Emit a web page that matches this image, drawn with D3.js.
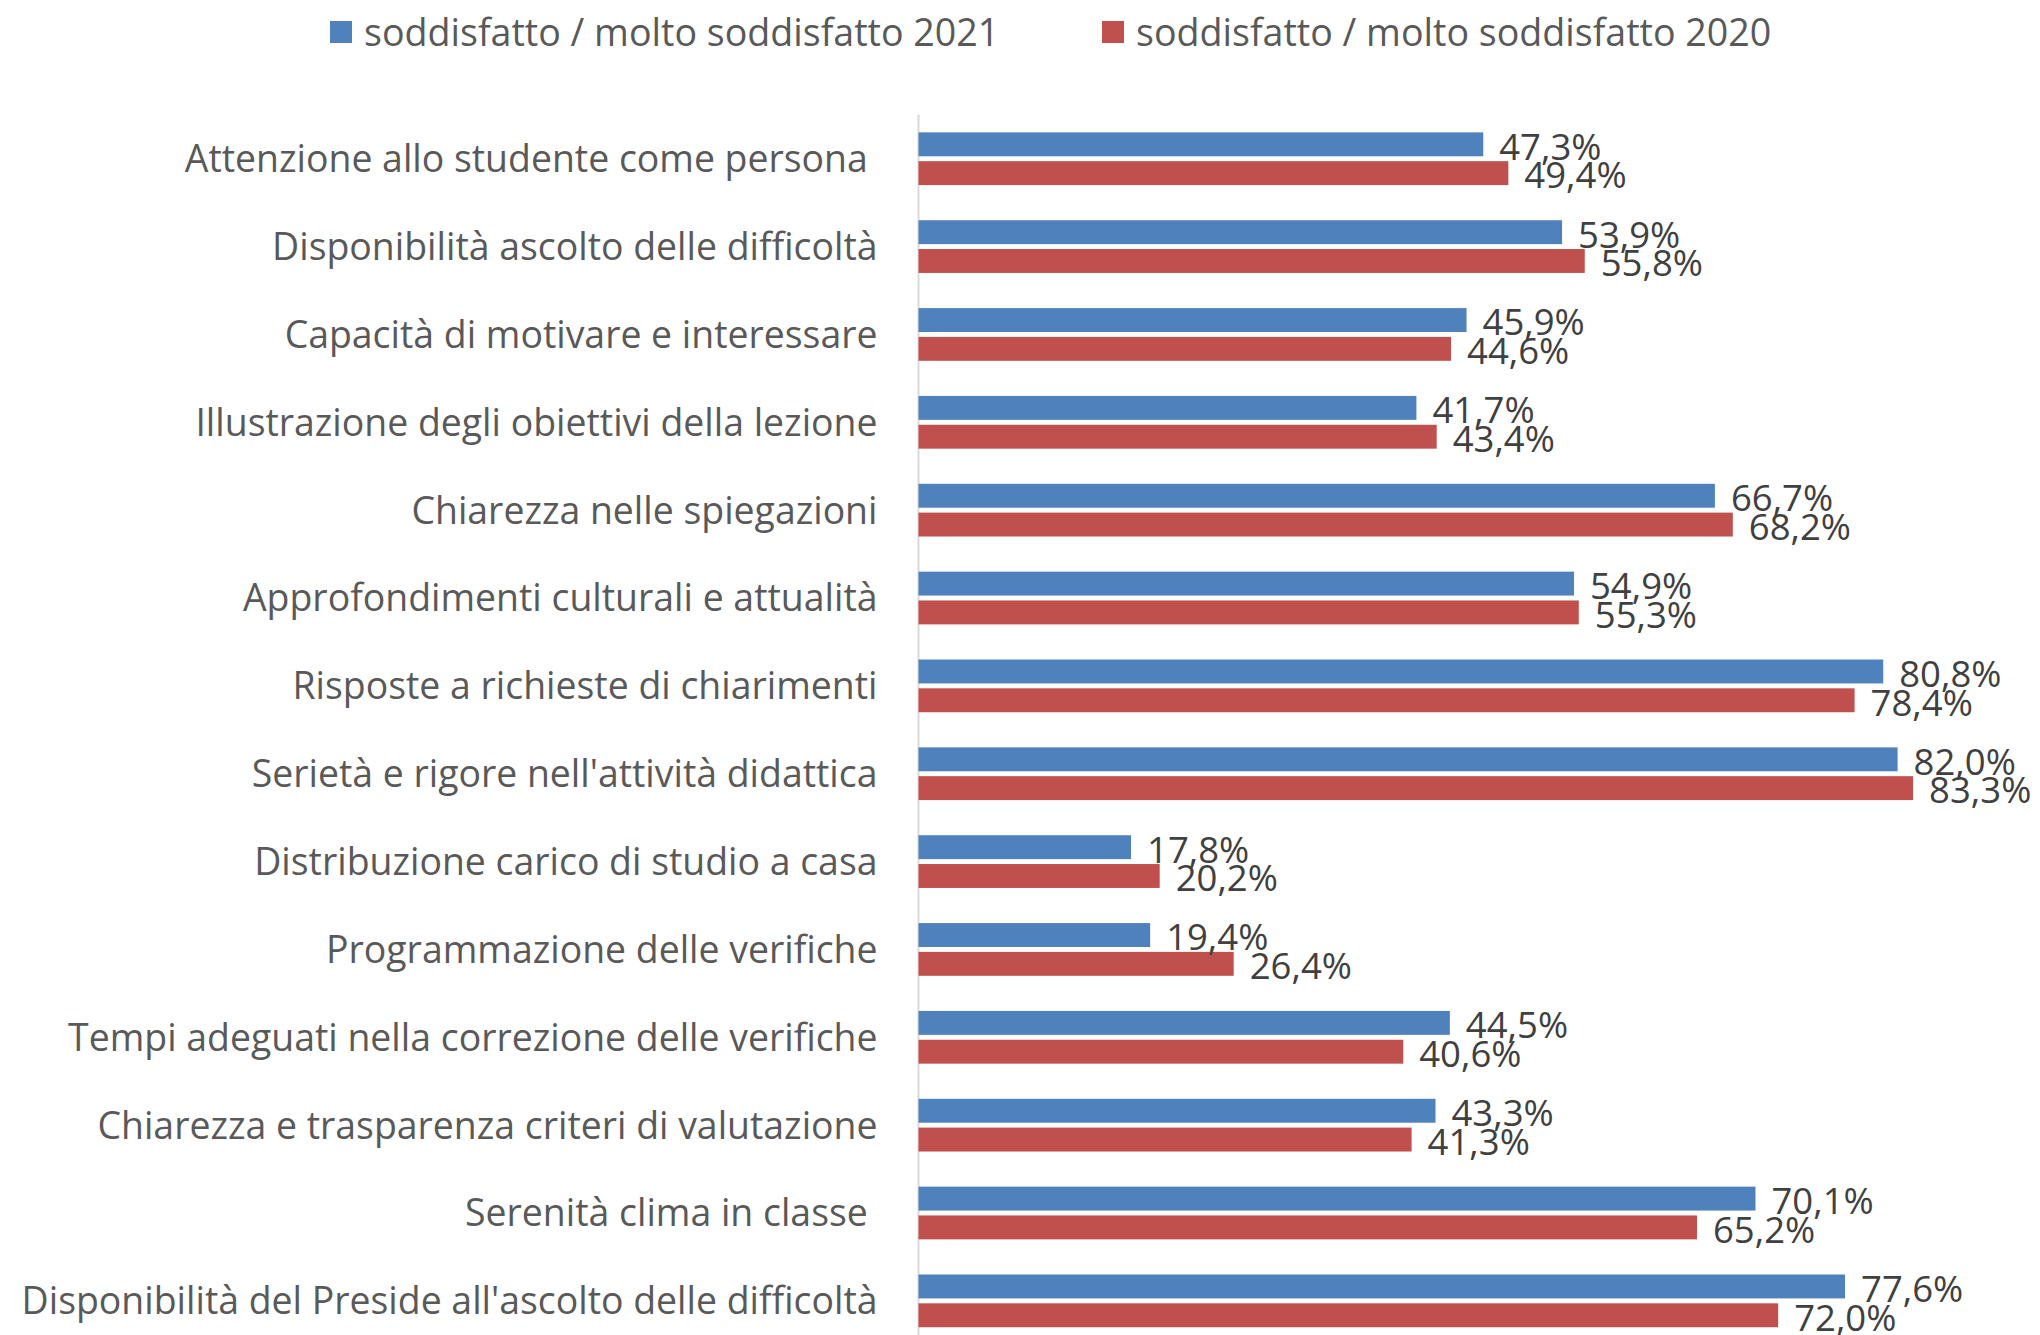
<!DOCTYPE html>
<html>
<head>
<meta charset="utf-8">
<script src="https://cdn.jsdelivr.net/npm/d3@7"></script>
<style>
  body { margin: 0; background: #fff; }
  text { font-family: "Open Sans", sans-serif; white-space: pre; }
</style>
</head>
<body>
<svg id="chart"></svg>
<script>
// categories (top to bottom), trailing spaces kept as in the original
const categories = [
  "Attenzione allo studente come persona ",
  "Disponibilità ascolto delle difficoltà",
  "Capacità di motivare e interessare",
  "Illustrazione degli obiettivi della lezione",
  "Chiarezza nelle spiegazioni",
  "Approfondimenti culturali e attualità",
  "Risposte a richieste di chiarimenti",
  "Serietà e rigore nell'attività didattica",
  "Distribuzione carico di studio a casa",
  "Programmazione delle verifiche",
  "Tempi adeguati nella correzione delle verifiche",
  "Chiarezza e trasparenza criteri di valutazione",
  "Serenità clima in classe ",
  "Disponibilità del Preside all'ascolto delle difficoltà"
]

const values2021 = [47.3, 53.9, 45.9, 41.7, 66.7, 54.9, 80.8, 82.0, 17.8, 19.4, 44.5, 43.3, 70.1, 77.6]
const values2020 = [49.4, 55.8, 44.6, 43.4, 68.2, 55.3, 78.4, 83.3, 20.2, 26.4, 40.6, 41.3, 65.2, 72.0]

const seriesNames = ["soddisfatto / molto soddisfatto 2021", "soddisfatto / molto soddisfatto 2020"]
const seriesKeys = ["y2021", "y2020"]
const seriesColors = ["#4F81BD", "#C0504D"]

const width = 2040
const height = 1335

const svg = d3.select("#chart")
  .attr("width", width)
  .attr("height", height)

const rows = categories.map((c, i) => ({
  name: c,
  y2021: values2021[i],
  y2020: values2020[i]
}))

// scales
const x = d3.scaleLinear()
  .domain([0, 100])
  .range([918.5, 918.5 + 1194])

const y = d3.scaleBand()
  .domain(categories)
  .range([114.8, 1344.8])
  .paddingInner(0.4)
  .paddingOuter(0.2)

const ySub = d3.scaleBand()
  .domain(seriesKeys)
  .range([0, y.bandwidth()])
  .paddingInner(0.17)

const color = d3.scaleOrdinal().domain(seriesKeys).range(seriesColors)
const fmt = v => d3.format(".1f")(v).replace(".", ",") + "%"

// vertical axis line
svg.append("line")
  .attr("x1", x(0)).attr("x2", x(0))
  .attr("y1", 114.5).attr("y2", height)
  .attr("stroke", "#d9d9d9")
  .attr("stroke-width", 2)

// category labels
svg.append("g")
  .selectAll("text")
  .data(categories)
  .enter()
  .append("text")
  .attr("x", x(0) - 41)
  .attr("y", d => y(d) + y.bandwidth() / 2)
  .attr("dy", "0.36em")
  .attr("text-anchor", "end")
  .attr("font-size", 37.4)
  .attr("fill", "#595959")
  .text(d => d)

// bars
const groups = svg.append("g")
  .selectAll("g")
  .data(rows)
  .enter()
  .append("g")
  .attr("transform", d => "translate(0," + y(d.name) + ")")

groups.selectAll("rect")
  .data(d => seriesKeys.map(k => ({ key: k, value: d[k] })))
  .enter()
  .append("rect")
  .attr("x", x(0))
  .attr("y", d => ySub(d.key))
  .attr("width", d => x(d.value) - x(0))
  .attr("height", ySub.bandwidth())
  .attr("fill", d => color(d.key))

groups.selectAll("text")
  .data(d => seriesKeys.map(k => ({ key: k, value: d[k] })))
  .enter()
  .append("text")
  .attr("x", d => x(d.value) + 16)
  .attr("y", d => ySub(d.key) + ySub.bandwidth() / 2)
  .attr("dy", "0.42em")
  .attr("font-size", 36.5)
  .attr("fill", "#404040")
  .text(d => fmt(d.value))

// legend
const legendX = [330, 1102]
const legend = svg.append("g")
  .selectAll("g")
  .data(seriesKeys)
  .enter()
  .append("g")
  .attr("transform", (d, i) => "translate(" + legendX[i] + ",32)")

legend.append("rect")
  .attr("x", 0)
  .attr("y", -11)
  .attr("width", 22)
  .attr("height", 22)
  .attr("fill", d => color(d))

legend.append("text")
  .attr("x", 34)
  .attr("y", 0)
  .attr("dy", "0.36em")
  .attr("font-size", 37.6)
  .attr("fill", "#595959")
  .text((d, i) => seriesNames[i])
</script>
</body>
</html>
